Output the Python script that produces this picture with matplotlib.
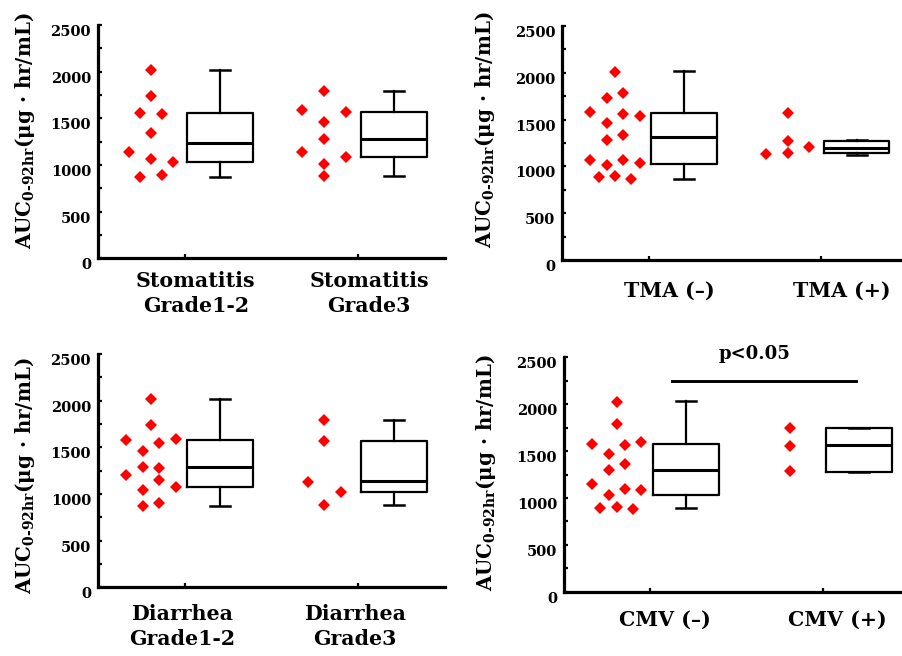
import matplotlib
matplotlib.use("Agg")
import matplotlib.pyplot as plt
from matplotlib.transforms import ScaledTranslation

plt.rcParams['font.family'] = 'DejaVu Serif'
plt.rcParams['font.weight'] = 'bold'
plt.rcParams['mathtext.fontset'] = 'custom'
plt.rcParams['mathtext.rm'] = 'DejaVu Serif:bold'
plt.rcParams['mathtext.it'] = 'DejaVu Serif:bold'
plt.rcParams['mathtext.bf'] = 'DejaVu Serif:bold'

# ---------------- data ----------------
y_ticks = [0, 500, 1000, 1500, 2000, 2500]

# Panel 1: Stomatitis
stoma_labels = ["Stomatitis\nGrade1-2", "Stomatitis\nGrade3"]
stoma_g1_vals = [2017, 1738, 1552, 1542, 1345, 1134, 1066, 1037, 866, 890]
stoma_g1_cols = [0, 0, -1, 1, 0, -2, 0, 2, -1, 1]
stoma_g2_vals = [1591, 1795, 1573, 1463, 1280, 1141, 1087, 1012, 883]
stoma_g2_cols = [-1, 0, 1, 0, 0, -1, 1, 0, 0]
# box stats: whislo, q1, med, q3, whishi
stoma_g1_box = [869, 1037, 1234, 1562, 2020]
stoma_g2_box = [883, 1087, 1280, 1570, 1788]

# Panel 2: TMA
tma_labels = ["TMA (\u2013)", "TMA (+)"]
tma_g1_vals = [2012, 1734, 1784, 1585, 1560, 1542, 1460, 1282, 1335,
               1072, 1072, 1040, 1015, 883, 897, 865]
tma_g1_cols = [0, -1, 1, -3, 1, 3, -1, -1, 1, -3, 1, 3, -1, -2, 0, 2]
tma_g2_vals = [1132, 1567, 1275, 1143, 1204]
tma_g2_cols = [-1, 0, 0, 0, 1]
tma_g1_box = [865, 1026, 1318, 1574, 2019]
tma_g2_box = [1125, 1147, 1200, 1275, 1282]

# Panel 3: Diarrhea
diar_labels = ["Diarrhea\nGrade1-2", "Diarrhea\nGrade3"]
diar_g1_vals = [2018, 1743, 1579, 1590, 1550, 1465, 1290, 1282, 1204,
                1150, 1079, 1039, 900, 872]
diar_g1_cols = [0, 0, -3, 3, 1, -1, -1, 1, -3, 1, 3, -1, 1, -1]
diar_g2_vals = [1793, 1565, 1132, 1018, 886]
diar_g2_cols = [0, 0, -1, 1, 0]
diar_g1_box = [872, 1079, 1290, 1579, 2015]
diar_g2_box = [886, 1018, 1139, 1568, 1793]

# Panel 4: CMV
cmv_labels = ["CMV (\u2013)", "CMV (+)"]
cmv_g1_vals = [2020, 1793, 1579, 1569, 1594, 1473, 1298, 1359, 1145,
               1092, 1081, 1028, 889, 907, 882]
cmv_g1_cols = [0, 0, -3, 1, 3, -1, -1, 1, -3, 1, 3, -1, -2, 0, 2]
cmv_g2_vals = [1750, 1554, 1284]
cmv_g2_cols = [0, 0, 0]
cmv_g1_box = [889, 1028, 1295, 1579, 2031]
cmv_g2_box = [1281, 1281, 1562, 1750, 1750]
sig_text = "p<0.05"
sig_level = 2244

# ---------------- figure ----------------
W, H = 903, 656
fig = plt.figure(figsize=(W / 100, H / 100), dpi=100)


def add_ax(l, t, r, b):
    return fig.add_axes([l / W, 1 - b / H, (r - l) / W, (b - t) / H])


def box(ax, pos, st):
    stats = [dict(whislo=st[0], q1=st[1], med=st[2], q3=st[3], whishi=st[4], fliers=[])]
    ax.bxp(stats, positions=[pos], widths=0.76, showfliers=False, patch_artist=False,
           boxprops=dict(color='black', linewidth=1.6),
           medianprops=dict(color='black', linewidth=2.2),
           whiskerprops=dict(color='black', linewidth=1.6),
           capprops=dict(color='black', linewidth=1.8),
           capwidths=0.23, manage_ticks=False)


def dots(ax, center, vals, cols, step):
    xs = [center + c * step for c in cols]
    ax.plot(xs, vals, linestyle='none', marker='D', markersize=6,
            color='#ff0000', markeredgewidth=0)


def panel(ax, labels, g1v, g1c, g1b, g2v, g2c, g2b, step1, step2, xoff, xpad, ylab_xy):
    ax.set_xlim(0, 4)
    ax.set_ylim(0, 2500)
    for s in ['top', 'right']:
        ax.spines[s].set_visible(False)
    for s in ['left', 'bottom']:
        ax.spines[s].set_linewidth(2.3)
    ax.set_yticks(y_ticks)
    ax.set_yticks(range(250, 2500, 500), minor=True)
    ax.set_yticklabels([str(v) for v in y_ticks], fontsize=10.5, fontweight='bold')
    ax.tick_params(axis='y', which='both', direction='in', length=3, width=1.6, pad=5)
    ax.set_xticks([1, 3])
    ax.set_xticklabels(labels, fontsize=14.8, fontweight='bold', linespacing=1.3)
    ax.tick_params(axis='x', direction='in', length=3, width=1.6, pad=xpad)
    for lab in ax.get_yticklabels():
        lab.set_verticalalignment('top')
    off = ScaledTranslation(xoff / 100, 0, fig.dpi_scale_trans)
    for lab in ax.get_xticklabels():
        lab.set_transform(lab.get_transform() + off)
    dots(ax, 1 - 0.39, g1v, g1c, step1)
    dots(ax, 3 - 0.39, g2v, g2c, step2)
    box(ax, 1.41, g1b)
    box(ax, 3.41, g2b)
    fig.text(ylab_xy[0] / W, 1 - ylab_xy[1] / H,
             r"AUC$_{0\text{-}92hr}$(μg · hr/mL)", rotation=90,
             ha='center', va='center', fontsize=14.3, fontweight='bold')


ax1 = add_ax(98, 25, 445, 258.3)
panel(ax1, stoma_labels, stoma_g1_vals, stoma_g1_cols, stoma_g1_box,
      stoma_g2_vals, stoma_g2_cols, stoma_g2_box, 0.127, 0.254, 11, 9, (25, 131))

ax2 = add_ax(562.3, 26, 907.6, 260)
panel(ax2, tma_labels, tma_g1_vals, tma_g1_cols, tma_g1_box,
      tma_g2_vals, tma_g2_cols, tma_g2_box, 0.095, 0.249, 21, 15, (485, 130))

ax3 = add_ax(98, 354, 445, 587.3)
panel(ax3, diar_labels, diar_g1_vals, diar_g1_cols, diar_g1_box,
      diar_g2_vals, diar_g2_cols, diar_g2_box, 0.095, 0.19, -3, 12, (25, 476))

ax4 = add_ax(564, 357.3, 910, 591.7)
panel(ax4, cmv_labels, cmv_g1_vals, cmv_g1_cols, cmv_g1_box,
      cmv_g2_vals, cmv_g2_cols, cmv_g2_box, 0.095, 0.19, 14, 13, (486, 473))
ax4.plot([1.25, 3.38], [sig_level, sig_level], color='black', linewidth=2.1,
         clip_on=False)
ax4.text(2.2, 2540, sig_text, ha='center', va='center', fontsize=13,
         fontweight='bold', clip_on=False)

fig.savefig("out.png", dpi=100)
